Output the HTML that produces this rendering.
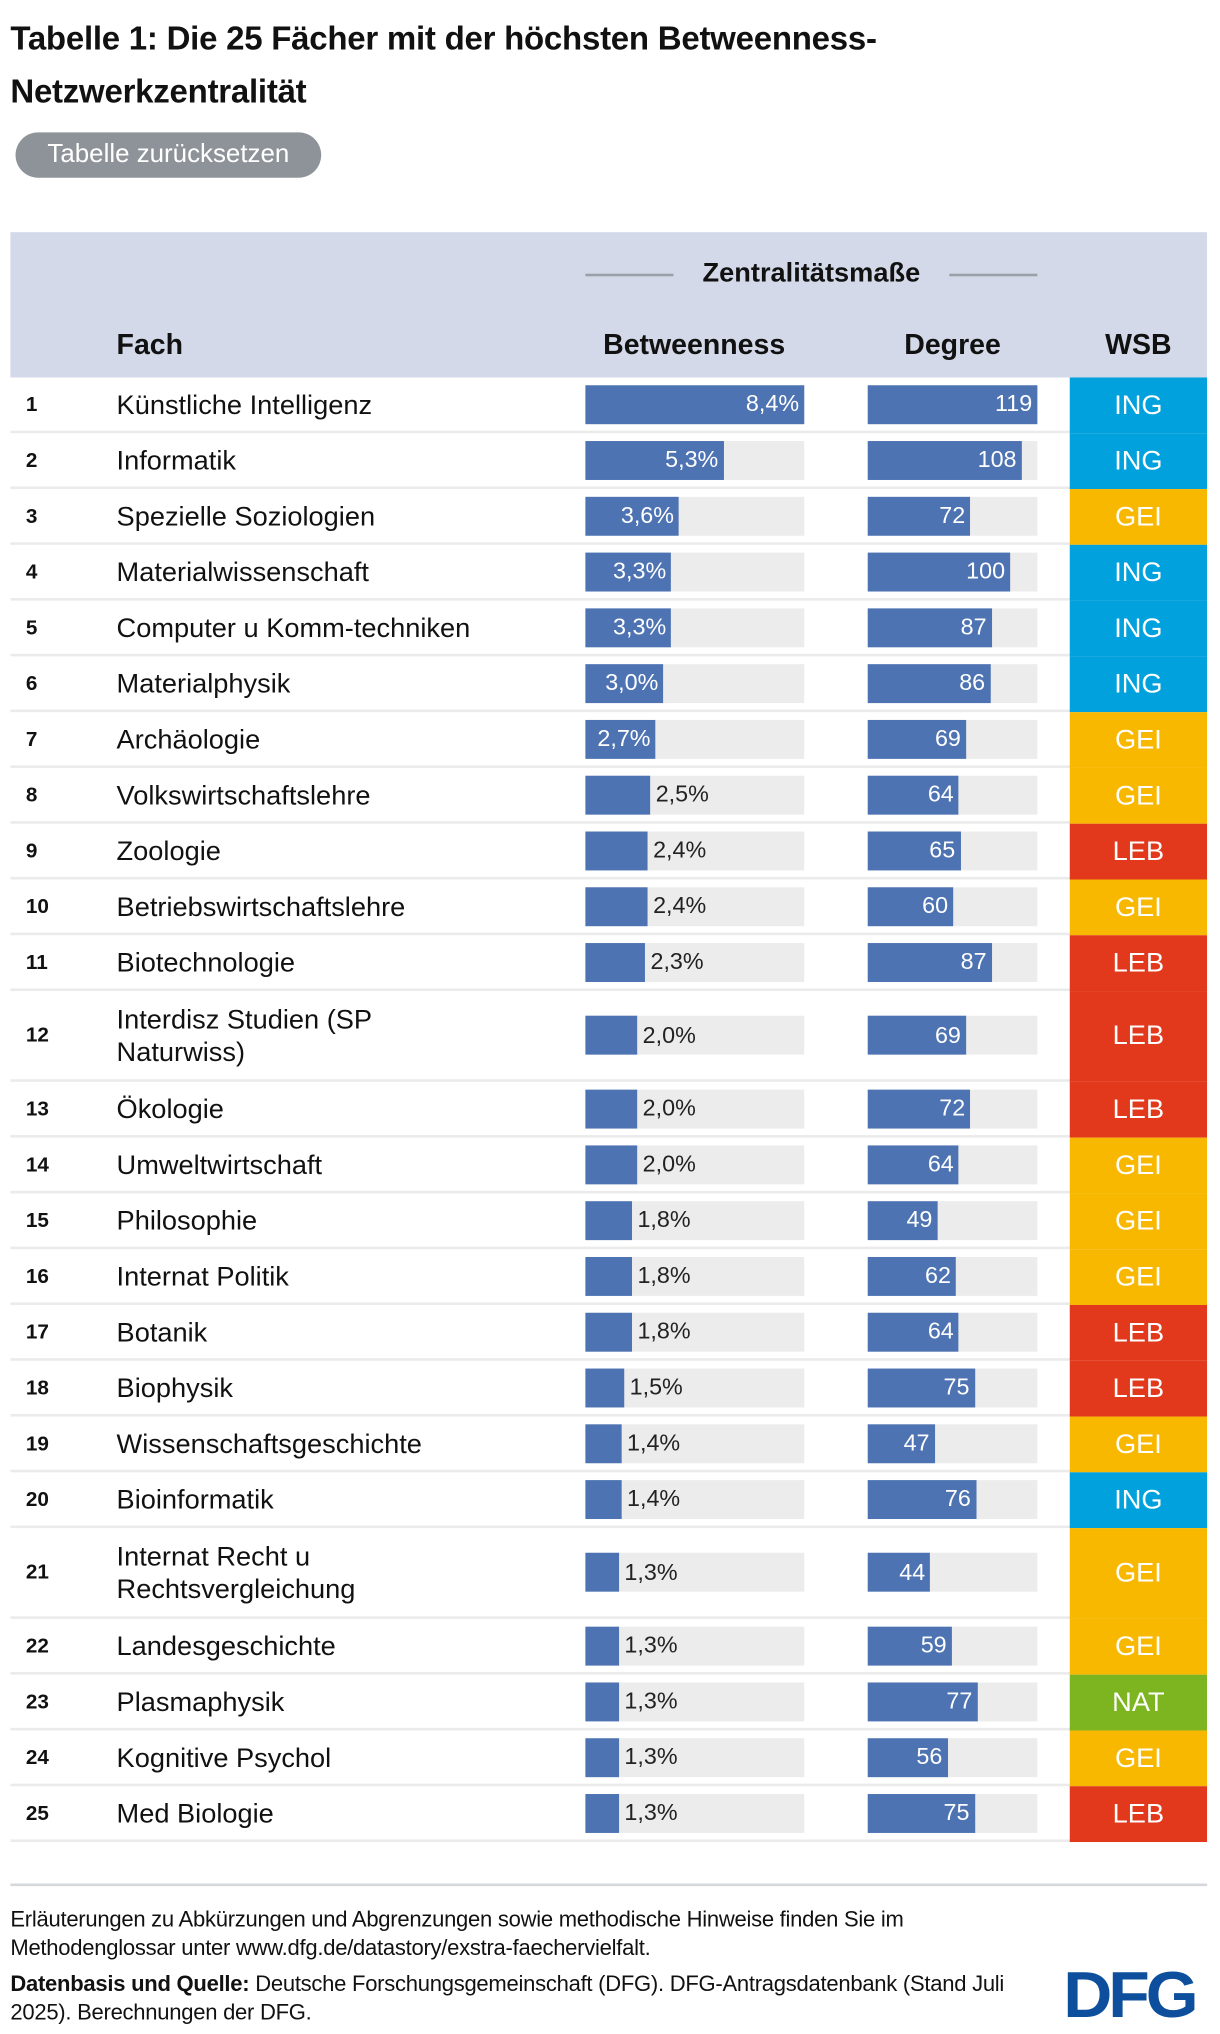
<!DOCTYPE html>
<html><head><meta charset="utf-8">
<style>
html,body{margin:0;padding:0;background:#fff;width:1220px;height:2034px;overflow:hidden}
#wrap{position:absolute;left:0;top:0;width:942px;height:1568px;transform:scale(1.2951,1.2972);transform-origin:0 0;font-family:"Liberation Sans",sans-serif;color:#111}
.abs{position:absolute}
.title{left:8px;font-size:25.5px;font-weight:bold;letter-spacing:-0.2px}
.cell{position:absolute;display:flex;align-items:center}
</style></head><body>
<div id="wrap">
<div class="abs title" style="top:16px">Tabelle 1: Die 25 Fächer mit der höchsten Betweenness-</div>
<div class="abs title" style="top:57px">Netzwerkzentralität</div>
<div class="abs" style="left:12px;top:102px;width:236px;height:35px;border-radius:18px;background:#8d9399;color:#fff;font-size:20px;line-height:35px;text-align:center">Tabelle zurücksetzen</div>
<div class="abs" style="left:8px;top:179px;width:924px;height:112px;background:#d3d9e8"></div>
<div class="abs" style="left:452px;top:211px;width:68px;height:2px;background:#9aa0a8"></div>
<div class="abs" style="left:733px;top:211px;width:68px;height:2px;background:#9aa0a8"></div>
<div class="abs" style="left:520px;width:213px;top:199px;text-align:center;font-size:21px;font-weight:bold">Zentralitätsmaße</div>
<div class="abs" style="left:90px;top:253px;font-size:22px;font-weight:bold">Fach</div>
<div class="abs" style="left:430px;width:212px;top:253px;font-size:22px;font-weight:bold;text-align:center">Betweenness</div>
<div class="abs" style="left:670px;width:131px;top:253px;font-size:22px;font-weight:bold;text-align:center">Degree</div>
<div class="abs" style="left:826px;width:106px;top:253px;font-size:22px;font-weight:bold;text-align:center">WSB</div>
<div id="rows"></div>
<div class="abs" style="left:8px;top:1452px;width:924px;height:2px;background:#d5d8dc"></div>
<div class="abs" style="left:8px;top:1469px;width:790px;font-size:17px;line-height:22px;letter-spacing:-0.2px">Erläuterungen zu Abkürzungen und Abgrenzungen sowie methodische Hinweise finden Sie im Methodenglossar unter www.dfg.de/datastory/exstra-faechervielfalt.</div>
<div class="abs" style="left:8px;top:1519px;width:790px;font-size:17px;line-height:22px;letter-spacing:-0.2px"><b>Datenbasis und Quelle:</b> Deutsche Forschungsgemeinschaft (DFG). DFG-Antragsdatenbank (Stand Juli 2025). Berechnungen der DFG.</div>
<div class="abs" style="left:821px;top:1510px;width:114px;font-size:50px;font-weight:900;color:#0d4f9c;letter-spacing:-3px;line-height:56px;transform:scaleX(1.05);transform-origin:0 0">DFG</div>
</div>
<script>
const faecher=["Künstliche Intelligenz","Informatik","Spezielle Soziologien","Materialwissenschaft","Computer u Komm-techniken","Materialphysik","Archäologie","Volkswirtschaftslehre","Zoologie","Betriebswirtschaftslehre","Biotechnologie","Interdisz Studien (SP Naturwiss)","Ökologie","Umweltwirtschaft","Philosophie","Internat Politik","Botanik","Biophysik","Wissenschaftsgeschichte","Bioinformatik","Internat Recht u Rechtsvergleichung","Landesgeschichte","Plasmaphysik","Kognitive Psychol","Med Biologie"];
const betweenness=[8.4,5.3,3.6,3.3,3.3,3.0,2.7,2.5,2.4,2.4,2.3,2.0,2.0,2.0,1.8,1.8,1.8,1.5,1.4,1.4,1.3,1.3,1.3,1.3,1.3];
const degree=[119,108,72,100,87,86,69,64,65,60,87,69,72,64,49,62,64,75,47,76,44,59,77,56,75];
const wsb=["ING","ING","GEI","ING","ING","ING","GEI","GEI","LEB","GEI","LEB","LEB","LEB","GEI","GEI","GEI","LEB","LEB","GEI","ING","GEI","GEI","NAT","GEI","LEB"];
const colors={ING:"#00a1dc",GEI:"#f8b800",LEB:"#e2381b",NAT:"#7db520"};
const bMax=8.4,dMax=119,bX=452,bW=169,dX=670,dW=131;
const xb=v=>v/bMax*bW, xd=v=>v/dMax*dW;
const rows=document.getElementById('rows');
let y=291;
faecher.forEach((f,i)=>{
  const tall=f.length>28;const h=tall?70:43;
  const r=document.createElement('div');
  
  
  r.className='abs';r.style.cssText=`left:8px;top:${y}px;width:924px;height:${h}px;border-bottom:2px solid #ebebeb;box-sizing:border-box`;
  rows.appendChild(r);
  const add=(css,html,name,inter)=>{const e=document.createElement('div');e.className='cell';e.style.cssText=css;e.innerHTML=html;
    
    
    rows.appendChild(e);return e;};
  const cy=y+h/2-1;
  add(`left:20px;top:${y}px;height:${h}px;font-size:16px;font-weight:bold`,String(i+1),'rank-'+(i+1),'false');
  add(`left:90px;top:${y}px;height:${h}px;width:285px;font-size:21px;line-height:25px`,f,'subject-name','false');
  add(`left:${bX}px;top:${cy-15}px;width:${bW}px;height:30px;background:#ececec`,'','betweenness-track','false');
  const bw=xb(betweenness[i]);
  const lab=betweenness[i].toFixed(1).replace('.',',')+'%';
  const inside=bw>52;
  add(`left:${bX}px;top:${cy-15}px;width:${bw}px;height:30px;background:#4d73b3`,'','betweenness-bar','true');
  add(`left:${inside?bX:bX+bw+4}px;top:${cy-15}px;width:${inside?bw-4:60}px;height:30px;justify-content:${inside?'flex-end':'flex-start'};color:${inside?'#fff':'#222'};font-size:18px`,lab,'betweenness-value','false');
  add(`left:${dX}px;top:${cy-15}px;width:${dW}px;height:30px;background:#ececec`,'','degree-track','false');
  const dw=xd(degree[i]);
  add(`left:${dX}px;top:${cy-15}px;width:${dw}px;height:30px;background:#4d73b3`,'','degree-bar','true');
  add(`left:${dX}px;top:${cy-15}px;width:${dw-4}px;height:30px;justify-content:flex-end;color:#fff;font-size:18px`,String(degree[i]),'degree-value','false');
  add(`left:826px;top:${y}px;width:106px;height:${h}px;background:${colors[wsb[i]]};justify-content:center;color:#fff;font-size:21px`,wsb[i],'wsb-cell','false');
  y+=h;
});
</script>
</body></html>
